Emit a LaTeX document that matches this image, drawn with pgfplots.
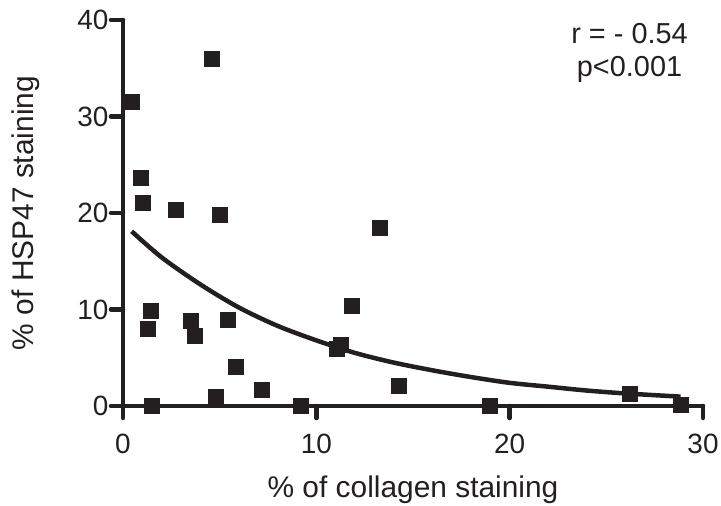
\documentclass[border=0pt]{standalone}
\usepackage{fontspec}
\setmainfont{Liberation Sans}
\usepackage{pgfplots}
\pgfplotsset{compat=1.18}
\definecolor{ink}{HTML}{231F20}

\begin{document}
\begin{tikzpicture}
  \begin{axis}[
      scale only axis,
      width=580bp, height=386bp,
      xmin=0, xmax=30, ymin=0, ymax=40,
      axis lines=left,
      axis line style={-, line width=4.5bp, ink, line cap=round},
      xtick={0,10,20,30}, ytick={0,10,20,30,40},
      tick align=outside,
      major tick length=12bp,
      tick style={line width=4.5bp, ink, line cap=round},
      /pgf/number format/assume math mode=true,
      ticklabel style={font=\fontsize{28}{30}\selectfont, text=ink},
      xticklabel style={yshift=-13bp},
      yticklabel style={xshift=1bp},
      xlabel={\% of collagen staining},
      ylabel={\% of HSP47 staining},
      label style={font=\fontsize{30}{32}\selectfont, text=ink},
      xlabel style={at={(axis description cs:0.5,-0.2358)}, anchor=base},
      ylabel style={at={(axis description cs:-0.1535,0.5)}, anchor=base},
      clip=false,
    ]
    % fitted decay curve
    \addplot[ink, line width=4.5bp, smooth, no marks] coordinates {
      (0.45,18.1) (2,15.4) (4,12.6) (6,10.2) (8,8.3) (10,6.8) (12,5.5)
      (14,4.5) (16,3.7) (18,3.0) (20,2.4) (22,2.0) (24,1.6) (26,1.3) (28.84,0.97)
    };
    \addplot[only marks, mark=square*, mark size=7.5bp,
             mark options={fill=ink, draw=ink, line width=0pt}] coordinates {
      (4.6,36.0) (0.45,31.5) (0.91,23.6) (1.02,21.0) (2.72,20.3) (5.01,19.8)
      (13.28,18.4) (1.43,9.8) (1.31,8.0) (3.51,8.8) (3.72,7.3) (5.41,8.9)
      (11.87,10.4) (11.05,5.95) (11.3,6.3) (5.82,4.05) (7.2,1.7) (14.3,2.1)
      (4.81,0.95) (1.51,0) (9.2,0) (18.97,0) (26.24,1.2) (28.84,0.15)
    };
    \node[align=center, text=ink, font=\fontsize{29}{33}\selectfont]
      at (axis cs:26.2,36.6) {r = - 0.54\\p<0.001};
  \end{axis}
  \pgfresetboundingbox
  \path[use as bounding box] (-123bp,-100bp) rectangle (598bp,406bp);
\end{tikzpicture}
\end{document}
